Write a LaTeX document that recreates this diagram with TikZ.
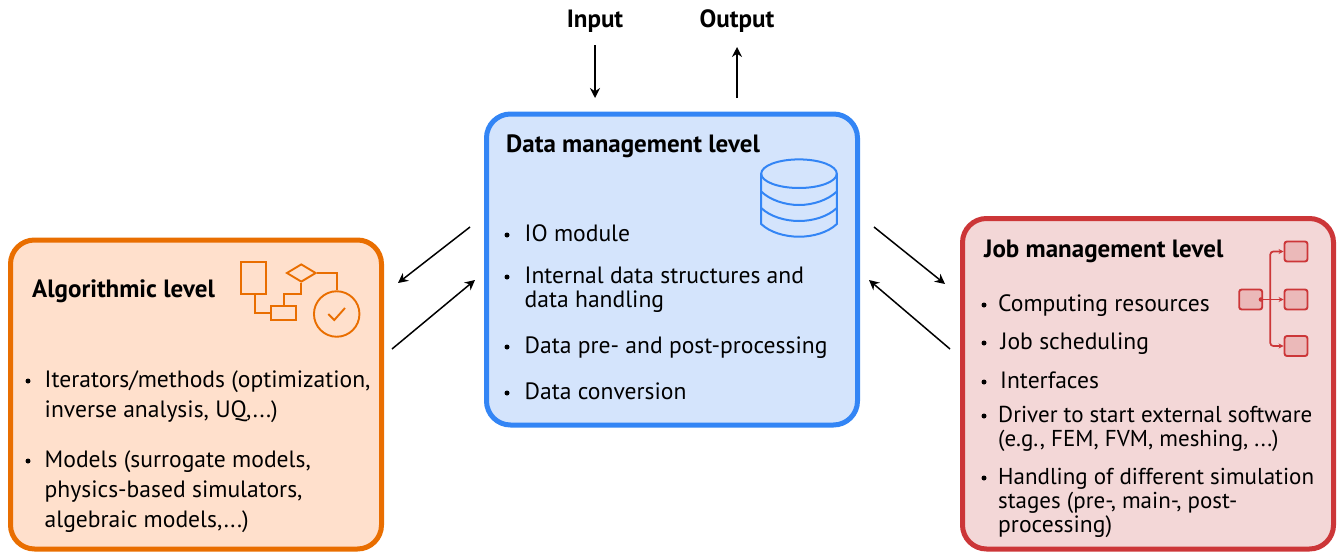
\documentclass[tikz,border=0pt]{standalone}
\usepackage{fontspec}
\setmainfont{PT Sans}
\usetikzlibrary{arrows.meta,shapes.geometric}
\definecolor{blueE}{HTML}{3385F5}\definecolor{blueF}{HTML}{D4E4FC}
\definecolor{orE}{HTML}{E96E00}\definecolor{orF}{HTML}{FFE0CC}
\definecolor{redE}{HTML}{CC3638}\definecolor{redF}{HTML}{F3D7D7}\definecolor{redG}{HTML}{EBB9B9}
\tikzset{
 panel/.style={draw=#1,line width=5pt,rounded corners=24pt},
 txt/.style={anchor=base west,inner sep=0pt,font=\fontsize{23.6}{26}\selectfont},
 txs/.style={anchor=base west,inner sep=0pt,font=\fontsize{23}{26}\selectfont},
 head/.style={anchor=base west,inner sep=0pt,font=\fontsize{25}{26}\selectfont\bfseries},
 io/.style={anchor=base,inner sep=0pt,font=\fontsize{25}{26}\selectfont\bfseries},
 flow/.style={draw=black,line width=1.5pt,-{Stealth[length=10pt,width=10pt]}},
 ic/.style={line width=1.9pt,draw=orE},
 db/.style={line width=2pt,draw=blueE},
 rb/.style={line width=1.9pt,draw=redE,fill=redG,rounded corners=2.5pt,minimum width=23pt,minimum height=20pt,inner sep=0pt},
 rl/.style={line width=1.7pt,draw=redE,-{Stealth[length=5pt,width=5pt]}},
 dot/.style={circle,fill=black,inner sep=0pt,minimum size=5pt}
}
\begin{document}
\begin{tikzpicture}[x=1pt,y=-1pt]
\useasboundingbox (0,0) rectangle (1339,552);
% panels
\node[panel=blueE,fill=blueF,minimum width=371pt,minimum height=311pt,inner sep=0pt] (bluep) at (672,269.5) {};
\node[panel=orE,fill=orF,minimum width=371pt,minimum height=309pt,inner sep=0pt] (orp) at (196,394.5) {};
\node[panel=redE,fill=redF,minimum width=371pt,minimum height=330.5pt,inner sep=0pt] (redp) at (1148,383.75) {};
% top labels
\node[io] (input) at (595,27.5) {Input};
\node[io] (output) at (737,27.5) {Output};
\coordinate (inA) at (595,45); \coordinate (inB) at (595,98);
\coordinate (outA) at (737,98); \coordinate (outB) at (737,47);
\draw[flow] (inA) -- (inB);
\draw[flow] (outA) -- (outB);
% between panels
\coordinate (a1) at (470,227); \coordinate (a2) at (398,283);
\coordinate (b1) at (392,349); \coordinate (b2) at (475,280);
\coordinate (c1) at (874,227); \coordinate (c2) at (945,284);
\coordinate (d1) at (950,349); \coordinate (d2) at (869,280);
\draw[flow] (a1) -- (a2);
\draw[flow] (b1) -- (b2);
\draw[flow] (c1) -- (c2);
\draw[flow] (d1) -- (d2);
% blue
\node[head] (bh) at (506,152) {Data management level};
\node[txt] (bt1) at (524.5,241) {IO module};
\node[txt] (bt2) at (524.5,283) {Internal data structures and};
\node[txt] (bt3) at (524.5,307) {data handling};
\node[txt] (bt4) at (524.5,353) {Data pre- and post-processing};
\node[txt] (bt5) at (524.5,399) {Data conversion};
\node[dot] (bd1) at (507,235) {};
\node[dot] (bd2) at (507,277) {};
\node[dot] (bd3) at (507,347) {};
\node[dot] (bd4) at (507,393) {};
% orange
\node[head] (oh) at (32,297.5) {Algorithmic level};
\node[txt] (o1) at (44.5,387) {Iterators/methods (optimization,};
\node[txt] (o2) at (44.5,417) {inverse analysis, UQ,...)};
\node[txt] (o3) at (44.5,467) {Models (surrogate models,};
\node[txt] (o4) at (44.5,497) {physics-based simulators,};
\node[txt] (o5) at (44.5,527) {algebraic models,...)};
\node[dot] (od1) at (28,381) {};
\node[dot] (od2) at (28,461) {};
% red
\node[head] (rh) at (984,257.5) {Job management level};
\node[txt] (r1) at (998,311) {Computing resources};
\node[txt] (r2) at (1000.5,349) {Job scheduling};
\node[txt] (r3) at (1000,388) {Interfaces};
\node[txs] (r4) at (998,422) {Driver to start external software};
\node[txs] (r5) at (998,446) {(e.g., FEM, FVM, meshing, ...)};
\node[txs] (r6) at (998,484) {Handling of different simulation};
\node[txs] (r7) at (998,508) {stages (pre-, main-, post-};
\node[txt] (r8) at (998,532) {processing)};
\node[dot] (rd1) at (984,305) {};
\node[dot] (rd2) at (984,343) {};
\node[dot] (rd3) at (984,382) {};
\node[dot] (rd4) at (984,416) {};
\node[dot] (rd5) at (984,478) {};
% database icon
\draw[db] (799,173.7) ellipse [x radius=37.8, y radius=14.3];
\draw[db] (761.2,173.7) -- (761.2,224) .. controls (770,232.5) and (785,236.7) .. (799,236.7) .. controls (813,236.7) and (828,232.5) .. (836.8,224) -- (836.8,173.7);
\draw[db] (761.2,191.5) .. controls (770,200) and (785,205) .. (799,205) .. controls (813,205) and (828,200) .. (836.8,191.5);
\draw[db] (761.2,208) .. controls (770,216.5) and (785,221) .. (799,221) .. controls (813,221) and (828,216.5) .. (836.8,208);
% flow icon
\node[ic,minimum width=25pt,minimum height=32pt,inner sep=0pt] (f1) at (253.5,278) {};
\node[ic,minimum width=25pt,minimum height=14pt,inner sep=0pt] (f2) at (283.3,313) {};
\node[ic,diamond,aspect=1.63,minimum width=29.5pt,minimum height=18pt,inner sep=0pt] (f3) at (301.3,273) {};
\node[ic,circle,minimum size=45.5pt,inner sep=0pt] (f4) at (336.7,314) {};
\coordinate (fa) at (254.7,313); \coordinate (fb) at (284,294); \coordinate (fc) at (337.3,273);
\draw[ic] (f1.south -| fa) -- (fa) -- (f2.west);
\draw[ic] (f2.north -| fb) -- (fb) -| (f3.south);
\draw[ic] (f3.east) -- (fc) -- (fc |- f4.north);
\coordinate (ck1) at (328.3,314); \coordinate (ck2) at (334.3,320); \coordinate (ck3) at (345,308);
\draw[ic] (ck1) -- (ck2) -- (ck3);
% job tree icon
\node[rb] (j0) at (1250.7,299.5) {};
\node[rb] (j1) at (1296,251.5) {};
\node[rb] (j2) at (1296,299.5) {};
\node[rb] (j3) at (1296,346) {};
\coordinate (js) at (1270.3,299.5);
\fill[redE] (1261,299.5) circle (2.3pt);
\draw[rl] (1261,299.5) -- (j2.west);
\draw[rl,rounded corners=3pt] (js) |- (j1.west);
\draw[rl,rounded corners=3pt] (js) |- (j3.west);
\end{tikzpicture}
\end{document}
